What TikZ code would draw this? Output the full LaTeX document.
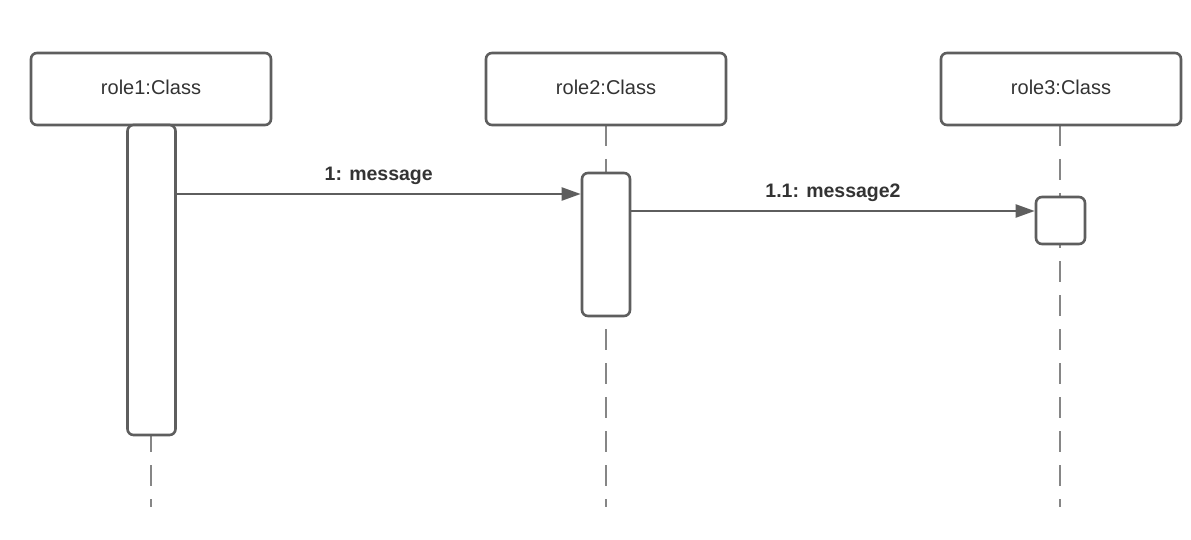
\documentclass[tikz,border=0pt]{standalone}
\usepackage{fontspec}
\setmainfont{Liberation Sans}
\usetikzlibrary{arrows.meta}
\definecolor{linegray}{HTML}{5E5E5E}
\definecolor{textgray}{HTML}{333333}
\tikzset{
  roleboxstyle/.style={draw=linegray, line width=2.6pt, rounded corners=6pt, fill=white,
    minimum width=240pt, minimum height=72pt, inner sep=0pt},
  roletext/.style={font=\fontsize{20}{23}\selectfont, text=textgray, yshift=2pt},
  actbox/.style={draw=linegray, line width=2.6pt, rounded corners=6pt, fill=white,
    minimum width=48pt, inner sep=0pt},
  lifeline/.style={draw=linegray!75, line width=2.8pt, dash pattern=on 21pt off 13pt},
  msg/.style={draw=linegray, line width=2.2pt, -{Triangle[length=19pt,width=13pt]}},
  msglabel/.style={font=\bfseries\fontsize{19.5}{23}\selectfont, text=textgray}
}
\begin{document}
\begin{tikzpicture}[x=1pt,y=-1pt]
\useasboundingbox (0,0) rectangle (1191,540);

% lifeline ends
\coordinate (end1) at (151,507);
\coordinate (end2) at (606,507);
\coordinate (end3) at (1060,507);

% lifelines (behind boxes)
\draw[lifeline] (151,125) -- (end1);
\draw[lifeline] (606,125) -- (end2);
\draw[lifeline] (1060,125) -- (end3);

% header boxes and their titles
\node[roleboxstyle] (r1) at (151,89) {};
\node[roleboxstyle] (r2) at (606,89) {};
\node[roleboxstyle] (r3) at (1061,89) {};
\node[roletext] (t1) at (r1.center) {role1:Class};
\node[roletext] (t2) at (r2.center) {role2:Class};
\node[roletext] (t3) at (r3.center) {role3:Class};

% activation bars
\node[actbox, minimum height=310pt] (a1) at (151.5,280) {};
\node[actbox, minimum height=143pt] (a2) at (606,244.5) {};
\node[actbox, minimum height=47pt, minimum width=49pt] (a3) at (1060.5,220.5) {};

% messages
\coordinate (y1) at (0,194);
\coordinate (y2) at (0,211);
\draw[msg] (a1.east |- y1) -- node[msglabel, above=5pt] (l1) {1: message} (a2.west |- y1);
\draw[msg] (a2.east |- y2) -- node[msglabel, above=5pt] (l2) {1.1: message2} (a3.west |- y2);
\end{tikzpicture}
\end{document}
